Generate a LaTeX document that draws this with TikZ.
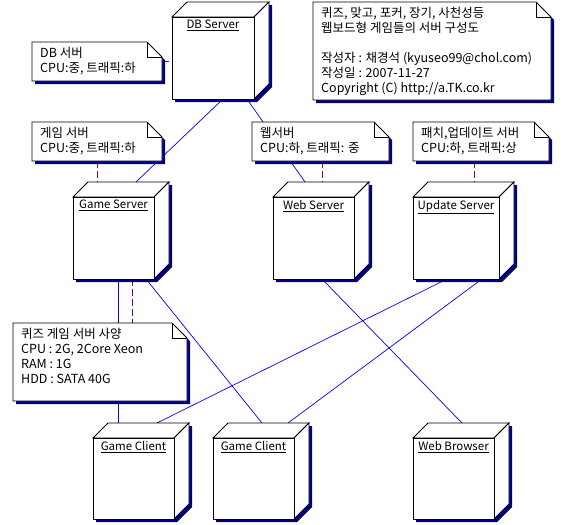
\documentclass[tikz,border=0pt]{standalone}
\usepackage{fontspec}
\setmainfont{Noto Sans CJK KR}
\usetikzlibrary{calc, backgrounds}

\definecolor{shadeblue}{RGB}{0,0,128}
\definecolor{wireblue}{RGB}{0,0,255}
\definecolor{notepurple}{RGB}{128,0,128}

\tikzset{
  face/.style={draw=black, fill=white, line width=0.9pt},
  wire/.style={wireblue, line width=0.7pt},
  noteline/.style={notepurple, line width=0.9pt, dash pattern=on 7pt off 3pt},
  devlabel/.style={font=\fontsize{11.5}{14}\selectfont, inner sep=0pt, anchor=north},
  notetext/.style={font=\fontsize{12.5}{15}\selectfont, inner sep=0pt, anchor=north west, align=left},
}

% 3D node: name, x, y (front top left), width, height, label
\newcommand{\umlnode}[6]{%
  \begin{scope}[shift={(#2,#3)}]
    \fill[shadeblue] (3,3) -- (18,-12) -- (#4+18,-12) -- (#4+18,#5-12) -- (#4+3,#5+3) -- (3,#5+3) -- cycle;
    \filldraw[face] (0,0) -- (15,-15) -- (#4+15,-15) -- (#4,0) -- cycle;
    \filldraw[face] (#4,0) -- (#4+15,-15) -- (#4+15,#5-15) -- (#4,#5) -- cycle;
    \node[face, anchor=north west, minimum width=#4, minimum height=#5, inner sep=0pt, outer sep=0pt] (#1) at (0,0) {};
    \node[devlabel] (#1-name) at ($(#1.north)+(0,3)$) {\underline{#6}};
  \end{scope}}

% note with folded corner: name, x1, y1, x2, y2, text
\newcommand{\umlnote}[6]{%
  \fill[shadeblue] (#2+3,#3+3) -- (#4-12,#3+3) -- (#4+3,#3+18) -- (#4+3,#5+3) -- (#2+3,#5+3) -- cycle;
  \node[anchor=north west, minimum width=#4-#2, minimum height=#5-#3, inner sep=0pt, outer sep=0pt] (#1) at (#2,#3) {};
  \filldraw[face] (#2,#3) -- (#4-15,#3) -- (#4,#3+15) -- (#4,#5) -- (#2,#5) -- cycle;
  \draw[face, fill=none] (#4-15,#3) -- (#4-15,#3+15) -- (#4,#3+15);
  \node[notetext] (#1-text) at (#2+8,#3+5) {#6};}

\begin{document}
\begin{tikzpicture}[x=1pt, y=-1pt]
  \useasboundingbox (0,0) rectangle (566,525);

  % servers
  \umlnode{db}{172}{17}{82}{82}{DB Server}
  \umlnode{gs}{73}{197}{81}{82}{Game Server}
  \umlnode{ws}{273}{197}{81}{82}{Web Server}
  \umlnode{us}{413}{197}{86}{82}{Update Server}

  % clients
  \umlnode{gc1}{93}{438}{81}{81}{Game Client}
  \umlnode{gc2}{213}{438}{81}{81}{Game Client}
  \umlnode{wb}{413}{438}{81}{81}{Web Browser}

  % notes
  \umlnote{title}{313}{2}{551}{100}{퀴즈, 맞고, 포커, 장기, 사천성등\\웹보드형 게임들의 서버 구성도\\[15pt]작성자 : 채경석 (kyuseo99@chol.com)\\작성일 : 2007-11-27\\Copyright (C) http://a.TK.co.kr}
  \umlnote{dbnote}{32}{42}{162}{81}{DB 서버\\CPU:중, 트래픽:하}
  \umlnote{gsnote}{32}{122}{162}{161}{게임 서버\\CPU:중, 트래픽:하}
  \umlnote{wsnote}{252}{122}{389}{161}{웹서버\\CPU:하, 트래픽: 중}
  \umlnote{usnote}{413}{122}{549}{161}{패치,업데이트 서버\\CPU:하, 트래픽:상}
  \umlnote{spec}{13}{323}{187}{401}{퀴즈 게임 서버 사양\\CPU : 2G, 2Core Xeon\\RAM : 1G\\HDD : SATA 40G}

  \begin{scope}[on background layer]
    % links
    \draw[wire] ($(db.south west)+(51,0)$) -- ($(gs.north west)+(63,-15)$);
    \draw[wire] ($(db.south west)+(75,0)$) -- ($(ws.north west)+(32,-15)$);
    \draw[wire] ($(gs.south west)+(45,0)$) -- ($(gc1.north west)+(25,-15)$);
    \draw[wire] ($(gs.south west)+(73,0)$) -- ($(gc2.north west)+(49,-15)$);
    \draw[wire] ($(us.south west)+(34,0)$) -- ($(gc1.north west)+(64,-15)$);
    \draw[wire] ($(us.south west)+(69,0)$) -- ($(gc2.north west)+(75,-15)$);
    \draw[wire] ($(ws.south west)+(49,0)$) -- ($(wb.north west)+(49,-15)$);

    % note anchors
    \draw[noteline] (dbnote.east) -- (dbnote.east -| db.west);
    \draw[noteline] ($(gsnote.south west)+(65,0)$) -- ($(gs.north west)+(24,-15)$);
    \draw[noteline] ($(wsnote.south west)+(70,0)$) -- ($(ws.north west)+(49,-15)$);
    \draw[noteline] ($(usnote.south west)+(61,0)$) -- ($(us.north west)+(61,-15)$);
    \draw[noteline] ($(gs.south west)+(59,0)$) -- ($(spec.north west)+(119,0)$);
  \end{scope}
\end{tikzpicture}
\end{document}
